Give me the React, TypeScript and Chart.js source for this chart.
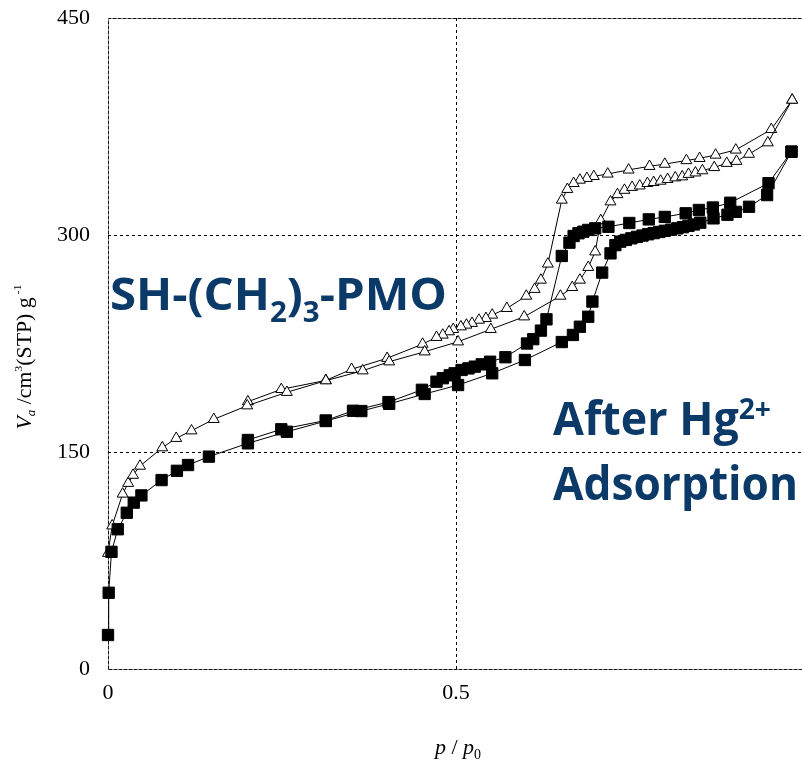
import React, { useEffect, useRef } from 'react';
import { Chart, registerables } from 'chart.js';

Chart.register(...registerables);

// ---- Data (p/p0, Va) ----
const triAdsP = [0.000, 0.006, 0.021, 0.029, 0.036, 0.046, 0.078, 0.098, 0.120, 0.152, 0.200, 0.257, 0.313, 0.366, 0.404, 0.455, 0.503, 0.550, 0.598, 0.650, 0.667, 0.678, 0.690, 0.700, 0.708, 0.722, 0.732, 0.742, 0.753, 0.764, 0.775, 0.784, 0.794, 0.804, 0.815, 0.825, 0.834, 0.844, 0.854, 0.871, 0.889, 0.903, 0.921, 0.948, 0.983];
const triAdsV = [80, 99, 121, 128.4, 134, 140.3, 153, 159.5, 164.7, 172.6, 182, 191.3, 199.3, 206.2, 212.4, 219.3, 226.2, 234.8, 243.5, 257.8, 263.8, 268.9, 277.7, 288.4, 310, 323, 328, 331, 333, 334, 335.7, 336.4, 337.3, 338.5, 339.6, 340.3, 342, 343, 344.5, 346.7, 349.6, 351, 355.9, 363.8, 393.3];

const triDesP = [0.983, 0.953, 0.902, 0.873, 0.850, 0.831, 0.800, 0.778, 0.748, 0.718, 0.698, 0.688, 0.678, 0.669, 0.660, 0.652, 0.632, 0.622, 0.613, 0.601, 0.573, 0.552, 0.543, 0.533, 0.523, 0.515, 0.507, 0.496, 0.490, 0.481, 0.472, 0.452, 0.401, 0.350, 0.313, 0.249, 0.201];
const triDesV = [393.3, 373, 358.8, 355.3, 353, 351.5, 349, 347.5, 345, 342.2, 340.5, 339.2, 338, 335.7, 331.6, 324.2, 280, 268.9, 262.5, 257.8, 249.3, 244.7, 242.4, 241.2, 239, 237.8, 236.6, 234.8, 233.2, 230.9, 229.3, 224.6, 214.8, 207.2, 199.5, 193.3, 184.8];

const sqAdsP = [0.000, 0.001, 0.005, 0.014, 0.027, 0.037, 0.048, 0.077, 0.099, 0.115, 0.145, 0.201, 0.257, 0.313, 0.364, 0.404, 0.455, 0.503, 0.552, 0.599, 0.652, 0.668, 0.678, 0.690, 0.696, 0.710, 0.722, 0.729, 0.736, 0.744, 0.752, 0.760, 0.768, 0.776, 0.784, 0.792, 0.800, 0.809, 0.818, 0.826, 0.834, 0.842, 0.851, 0.870, 0.890, 0.902, 0.921, 0.947, 0.982];
const sqAdsV = [23.5, 52.7, 81, 96.6, 108, 115, 120, 130.6, 137, 141, 146.8, 156, 164, 171.4, 178.3, 183.3, 190.1, 196.3, 204.4, 213.6, 226, 230.9, 236.6, 243.5, 254, 274, 287.3, 293, 295.4, 296.6, 297.7, 298.7, 299.6, 300.5, 301.3, 302.1, 302.9, 303.7, 304.6, 305.4, 306.3, 307.3, 308.5, 311.5, 314, 316, 319.5, 327.6, 357.6];

const sqDesP = [0.982, 0.949, 0.894, 0.869, 0.849, 0.830, 0.800, 0.777, 0.749, 0.719, 0.700, 0.690, 0.683, 0.676, 0.669, 0.663, 0.652, 0.630, 0.622, 0.611, 0.602, 0.571, 0.549, 0.537, 0.527, 0.518, 0.508, 0.498, 0.491, 0.481, 0.472, 0.451, 0.403, 0.352, 0.313, 0.249, 0.201];
const sqDesV = [357.6, 335.8, 322.3, 319, 317.3, 315, 312.5, 310.8, 308.3, 305.7, 304.6, 303.5, 302.3, 301.2, 299.3, 294.7, 285.5, 241.7, 233.9, 228, 225, 215.5, 212.4, 210.6, 209, 207.8, 206.7, 204.4, 203, 201, 198.6, 193, 184.5, 178.5, 171.8, 165.7, 158.3];

const xTicks = [0, 0.5, 1];
const yTicks = [0, 150, 300, 450];
const xTickLabels = ['0', '0.5', ''];

const BLUE = '#0B3A68';
const SERIF = '"Liberation Serif", "Times New Roman", serif';
const SANS = '"Open Sans", sans-serif';

const toPts = (xs: number[], ys: number[]) => xs.map((x, i) => ({ x, y: ys[i] }));

type Piece = { t: string; font: string; dy: number };

function drawRun(
  ctx: CanvasRenderingContext2D,
  pieces: Piece[],
  x: number,
  y: number,
  opts: { align: 'left' | 'center'; width?: number; color: string }
) {
  ctx.save();
  ctx.fillStyle = opts.color;
  ctx.textBaseline = 'alphabetic';
  ctx.textAlign = 'left';
  let total = 0;
  const ws = pieces.map((p) => {
    ctx.font = p.font;
    const w = ctx.measureText(p.t).width;
    total += w;
    return w;
  });
  const sx = opts.width ? opts.width / total : 1;
  ctx.translate(x, y);
  ctx.scale(sx, 1);
  let cx = opts.align === 'center' ? -total / 2 : 0;
  pieces.forEach((p, i) => {
    ctx.font = p.font;
    ctx.fillText(p.t, cx, p.dy);
    cx += ws[i];
  });
  ctx.restore();
}

const framePlugin = {
  id: 'frame',
  beforeDatasetsDraw(chart: any) {
    const { ctx, chartArea } = chart;
    const { left, right, top, bottom } = chartArea;
    ctx.save();
    ctx.strokeStyle = '#111';
    ctx.lineWidth = 1;
    ctx.setLineDash([4, 1]);
    ctx.beginPath();
    ctx.moveTo(Math.round(left) + 0.5, Math.round(bottom) + 0.5);
    ctx.lineTo(Math.round(left) + 0.5, Math.round(top) + 0.5);
    ctx.lineTo(Math.round(right) + 0.5, Math.round(top) + 0.5);
    ctx.moveTo(Math.round(left) + 0.5, Math.round(bottom) + 0.5);
    ctx.lineTo(Math.round(right) + 0.5, Math.round(bottom) + 0.5);
    ctx.stroke();
    ctx.restore();
  },
};

const textPlugin = {
  id: 'texts',
  afterDraw(chart: any) {
    const ctx: CanvasRenderingContext2D = chart.ctx;
    // x-axis title
    drawRun(
      ctx,
      [
        { t: 'p', font: `italic 22px ${SERIF}`, dy: 0 },
        { t: ' / ', font: `22px ${SERIF}`, dy: 0 },
        { t: 'p', font: `italic 22px ${SERIF}`, dy: 0 },
        { t: '0', font: `14px ${SERIF}`, dy: 5 },
      ],
      458,
      754,
      { align: 'center', color: '#000' }
    );
    // y-axis title
    ctx.save();
    ctx.translate(31, 357);
    ctx.rotate(-Math.PI / 2);
    drawRun(
      ctx,
      [
        { t: 'V', font: `italic 20px ${SERIF}`, dy: 0 },
        { t: 'a', font: `italic 12px ${SERIF}`, dy: 4 },
        { t: ' /cm', font: `20px ${SERIF}`, dy: 0 },
        { t: '3', font: `11px ${SERIF}`, dy: -9 },
        { t: '(STP) g', font: `20px ${SERIF}`, dy: 0 },
        { t: ' -1', font: `11px ${SERIF}`, dy: -10 },
      ],
      0,
      0,
      { align: 'center', width: 145, color: '#000' }
    );
    ctx.restore();

    // annotations
    const a = 45;
    drawRun(
      ctx,
      [
        { t: 'SH-(CH', font: `bold ${a}px ${SANS}`, dy: 0 },
        { t: '2', font: `bold ${Math.round(a * 0.62)}px ${SANS}`, dy: 12 },
        { t: ')', font: `bold ${a}px ${SANS}`, dy: 0 },
        { t: '3', font: `bold ${Math.round(a * 0.62)}px ${SANS}`, dy: 12 },
        { t: '-PMO', font: `bold ${a}px ${SANS}`, dy: 0 },
      ],
      110,
      310,
      { align: 'left', width: 337, color: BLUE }
    );
    const b = 46;
    drawRun(
      ctx,
      [
        { t: 'After Hg', font: `bold ${b}px ${SANS}`, dy: 0 },
        { t: '2+', font: `bold ${Math.round(b * 0.62)}px ${SANS}`, dy: -16 },
      ],
      553,
      435,
      { align: 'left', width: 218, color: BLUE }
    );
    drawRun(
      ctx,
      [{ t: 'Adsorption', font: `bold ${b}px ${SANS}`, dy: 0 }],
      553,
      500,
      { align: 'left', width: 245, color: BLUE }
    );
  },
};

export default function App() {
  const ref = useRef<HTMLCanvasElement | null>(null);

  useEffect(() => {
    document.body.style.margin = '0';
    const canvas = ref.current;
    if (!canvas) return;

    const lineCommon = {
      showLine: true,
      clip: false,
      borderColor: '#000',
      borderWidth: 1,
      tension: 0,
      pointBorderColor: '#000',
      pointBorderWidth: 1,
      pointHoverRadius: 0,
    };
    const sq = {
      ...lineCommon,
      pointStyle: 'rect',
      pointRadius: 8,
      pointBackgroundColor: '#000',
      backgroundColor: '#000',
    };
    const tri = {
      ...lineCommon,
      pointStyle: 'triangle',
      pointRadius: 6.3,
      pointBackgroundColor: '#fff',
      backgroundColor: '#fff',
    };

    const chart = new Chart(canvas, {
      type: 'scatter',
      data: {
        datasets: [
          { label: 'After Hg2+ adsorption branch', data: toPts(sqAdsP, sqAdsV), ...sq } as any,
          { label: 'After Hg2+ desorption branch', data: toPts(sqDesP, sqDesV), ...sq } as any,
          { label: 'SH-(CH2)3-PMO adsorption branch', data: toPts(triAdsP, triAdsV), ...tri } as any,
          { label: 'SH-(CH2)3-PMO desorption branch', data: toPts(triDesP, triDesV), ...tri } as any,
        ],
      },
      options: {
        responsive: false,
        animation: false,
        devicePixelRatio: 1,
        layout: { padding: { top: 18, right: 16, left: 0, bottom: 0 } },
        plugins: {
          legend: { display: false },
          tooltip: { enabled: false },
        },
        scales: {
          x: {
            type: 'linear',
            min: 0,
            max: 1,
            afterBuildTicks: (s: any) => {
              s.ticks = xTicks.map((v) => ({ value: v }));
            },
            afterFit: (s: any) => {
              s.height = 92;
              s.paddingLeft = 0;
              s.paddingRight = 0;
            },
            ticks: {
              font: { family: SERIF, size: 22 },
              color: '#000',
              padding: 11,
              maxRotation: 0,
              autoSkip: false,
              callback: (v: any) => xTickLabels[xTicks.indexOf(Number(v))] ?? '',
            },
            grid: {
              drawTicks: false,
              lineWidth: 1,
              color: (c: any) => (c.tick && c.tick.value > 0 && c.tick.value < 1 ? '#000' : 'rgba(0,0,0,0)'),
            },
            border: { display: false, dash: [3, 3] },
          },
          y: {
            type: 'linear',
            min: 0,
            max: 450,
            afterBuildTicks: (s: any) => {
              s.ticks = yTicks.map((v) => ({ value: v }));
            },
            afterFit: (s: any) => {
              s.width = 108;
              s.paddingTop = 0;
              s.paddingBottom = 0;
            },
            ticks: {
              font: { family: SERIF, size: 22 },
              color: '#000',
              padding: 18,
              autoSkip: false,
              callback: (v: any) => String(v),
            },
            grid: {
              drawTicks: false,
              lineWidth: 1,
              color: (c: any) => (c.tick && c.tick.value > 0 && c.tick.value < 450 ? '#000' : 'rgba(0,0,0,0)'),
            },
            border: { display: false, dash: [3, 3] },
          },
        },
      } as any,
      plugins: [framePlugin, textPlugin],
    });

    return () => {
      chart.destroy();
    };
  }, []);

  return (
    <div
      style={{
        position: 'fixed',
        left: 0,
        top: 0,
        width: 802,
        height: 761,
        overflow: 'hidden',
        background: '#fff',
      }}
    >
      <canvas ref={ref} width={820} height={761} style={{ width: 820, height: 761, display: 'block' }} />
    </div>
  );
}
